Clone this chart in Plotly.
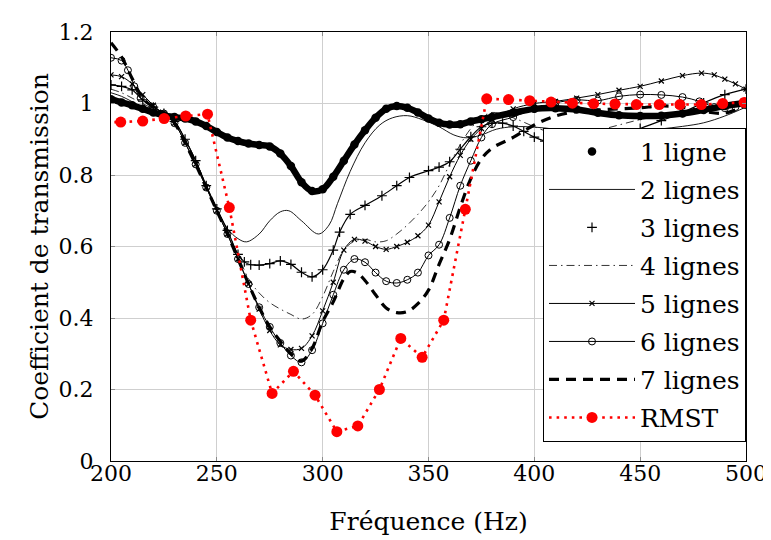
import plotly.graph_objects as go

# ---------------- data ----------------
x1 = [200, 205, 210, 215, 220, 225, 230, 235, 240, 245, 250, 255, 260, 265, 270, 275, 280, 285, 290, 295,
      300, 305, 310, 315, 320, 325, 330, 335, 340, 345, 350, 355, 360, 365, 370, 375, 380, 390, 400, 410,
      420, 430, 440, 450, 460, 470, 480, 490, 500]
ligne1 = [1.012, 1.003, 0.995, 0.985, 0.975, 0.967, 0.962, 0.958, 0.950, 0.937, 0.920, 0.905, 0.895, 0.888,
          0.884, 0.880, 0.860, 0.825, 0.780, 0.755, 0.760, 0.795, 0.840, 0.885, 0.925, 0.960, 0.985, 0.993,
          0.988, 0.975, 0.958, 0.946, 0.941, 0.942, 0.950, 0.956, 0.962, 0.974, 0.985, 0.987, 0.983, 0.974,
          0.967, 0.965, 0.966, 0.972, 0.982, 0.993, 1.002]

x2 = [200, 205, 210, 215, 220, 225, 230, 235, 240, 245, 250, 255, 260, 264, 270, 275, 280, 284, 290, 298,
      303, 307, 313, 320, 327, 333, 340, 347, 355, 362, 368, 375, 382, 390, 400, 410, 420, 430, 440, 450,
      460, 470, 480, 490, 500]
lignes2 = [1.030, 1.020, 1.005, 0.990, 0.980, 0.972, 0.950, 0.900, 0.840, 0.770, 0.705, 0.650, 0.622, 0.613,
           0.635, 0.672, 0.697, 0.700, 0.672, 0.635, 0.660, 0.720, 0.810, 0.890, 0.940, 0.960, 0.966, 0.955,
           0.935, 0.912, 0.904, 0.912, 0.928, 0.935, 0.934, 0.928, 0.920, 0.917, 0.918, 0.923, 0.929, 0.936,
           0.946, 0.965, 0.990]

x3 = [200, 205, 210, 215, 220, 225, 230, 235, 240, 245, 250, 255, 260, 263, 266, 270, 275, 280, 285, 290,
      295, 300, 305, 308, 313, 320, 328, 335, 341, 350, 355, 360, 365, 370, 375, 380, 385, 390, 395, 400,
      405, 410, 420, 430, 440, 450, 460, 470, 480, 490, 500]
lignes3 = [1.052, 1.048, 1.038, 1.010, 0.990, 0.972, 0.950, 0.900, 0.840, 0.770, 0.705, 0.645, 0.578, 0.557,
           0.549, 0.548, 0.552, 0.560, 0.550, 0.528, 0.515, 0.535, 0.590, 0.640, 0.690, 0.715, 0.742, 0.770,
           0.793, 0.812, 0.822, 0.837, 0.872, 0.907, 0.935, 0.945, 0.945, 0.937, 0.922, 0.906, 0.895, 0.890,
           0.889, 0.895, 0.910, 0.930, 0.952, 0.975, 1.002, 1.025, 1.040]

x4 = [200, 205, 210, 215, 220, 225, 230, 235, 240, 245, 250, 255, 260, 265, 270, 275, 280, 285, 290, 295,
      300, 305, 310, 315, 320, 325, 330, 335, 340, 345, 350, 355, 360, 365, 370, 375, 380, 390, 400, 410,
      420, 430, 440, 450, 460, 470, 480, 490, 500]
lignes4 = [1.040, 1.030, 1.015, 1.000, 0.985, 0.972, 0.950, 0.900, 0.840, 0.770, 0.705, 0.645, 0.575, 0.510,
           0.470, 0.443, 0.425, 0.410, 0.397, 0.410, 0.460, 0.530, 0.590, 0.615, 0.620, 0.613, 0.616, 0.635,
           0.660, 0.690, 0.725, 0.770, 0.830, 0.885, 0.930, 0.960, 0.975, 0.960, 0.935, 0.915, 0.915, 0.925,
           0.940, 0.955, 0.965, 0.975, 0.985, 0.990, 1.000]

x5 = [200, 205, 210, 215, 220, 225, 230, 235, 240, 245, 250, 255, 260, 265, 270, 275, 280, 285, 290, 295,
      300, 305, 310, 315, 320, 325, 330, 335, 340, 345, 350, 355, 360, 365, 370, 375, 380, 390, 400, 410,
      420, 430, 440, 450, 460, 470, 479, 485, 490, 495, 500]
lignes5 = [1.080, 1.075, 1.055, 1.025, 0.995, 0.970, 0.945, 0.890, 0.830, 0.765, 0.700, 0.635, 0.565, 0.495,
           0.425, 0.365, 0.325, 0.312, 0.315, 0.350, 0.420, 0.500, 0.590, 0.620, 0.615, 0.600, 0.592, 0.600,
           0.612, 0.630, 0.660, 0.725, 0.795, 0.855, 0.900, 0.930, 0.955, 0.985, 1.000, 1.006, 1.015, 1.025,
           1.037, 1.048, 1.063, 1.078, 1.085, 1.080, 1.068, 1.055, 1.040]

x6 = [200, 205, 208, 211, 214, 220, 225, 230, 235, 240, 245, 250, 255, 260, 265, 270, 275, 280, 285, 290,
      295, 300, 305, 310, 315, 320, 325, 330, 335, 340, 345, 350, 355, 360, 365, 370, 375, 380, 390, 400,
      410, 420, 430, 440, 450, 460, 470, 478, 485, 490, 495, 500]
lignes6 = [1.128, 1.120, 1.093, 1.048, 1.015, 0.990, 0.972, 0.945, 0.890, 0.830, 0.765, 0.700, 0.635, 0.565,
           0.495, 0.430, 0.375, 0.330, 0.295, 0.276, 0.310, 0.385, 0.465, 0.535, 0.565, 0.556, 0.527, 0.503,
           0.498, 0.507, 0.527, 0.575, 0.605, 0.680, 0.770, 0.840, 0.905, 0.942, 0.962, 0.985, 1.002, 1.010,
           1.008, 1.020, 1.025, 1.024, 1.018, 1.006, 0.990, 0.987, 0.990, 0.995]

x7 = [200, 205, 210, 215, 220, 225, 230, 235, 240, 245, 250, 255, 260, 265, 270, 275, 280, 285, 290, 295,
      300, 305, 310, 313, 316, 320, 325, 330, 335, 340, 345, 350, 355, 360, 365, 370, 375, 380, 390, 400,
      410, 420, 430, 440, 450, 460, 470, 480, 490, 500]
lignes7 = [1.170, 1.130, 1.070, 1.015, 0.990, 0.972, 0.945, 0.890, 0.830, 0.765, 0.700, 0.635, 0.565, 0.495,
           0.430, 0.375, 0.335, 0.300, 0.280, 0.315, 0.390, 0.445, 0.510, 0.530, 0.527, 0.505, 0.465, 0.428,
           0.415, 0.418, 0.440, 0.478, 0.550, 0.620, 0.710, 0.790, 0.845, 0.875, 0.905, 0.940, 0.965, 0.978,
           0.982, 0.985, 0.988, 0.993, 0.990, 0.978, 0.973, 0.995]

x_rmst = [194.4, 204.6, 215.0, 225.1, 235.3, 245.6, 255.9, 266.0, 276.1, 286.2, 296.4, 306.7, 316.6, 326.8,
          336.9, 347.0, 357.2, 367.4, 377.5, 387.8, 397.8, 407.9, 418.0, 428.0, 438.1, 448.2, 459.0, 468.8,
          478.9, 489.0, 499.1]
rmst = [0.948, 0.948, 0.951, 0.958, 0.965, 0.970, 0.709, 0.394, 0.189, 0.251, 0.184, 0.082, 0.098, 0.200,
        0.343, 0.290, 0.394, 0.704, 1.013, 1.011, 1.008, 1.004, 1.001, 0.9995, 0.9986, 0.997, 0.997, 0.997,
        0.997, 1.000, 1.003]

x_ticks = [200, 250, 300, 350, 400, 450, 500]
y_ticks = [0, 0.2, 0.4, 0.6, 0.8, 1.0, 1.2]
y_ticktext = ["0", "0.2", "0.4", "0.6", "0.8", "1", "1.2"]

FONT = "DejaVu Serif"
FS = 22      # tick labels
FT = 25      # axis titles and legend
fig = go.Figure()

def add(tr, group):
    tr.legendgroup = group
    fig.add_trace(tr)

# 1 ligne: dense band of filled dots
add(go.Scatter(x=x1, y=ligne1, mode="lines", line=dict(color="black", width=6.5, shape="spline"),
               showlegend=False, hoverinfo="skip"), "g1")
add(go.Scatter(x=x1, y=ligne1, mode="markers", name="1 ligne",
               marker=dict(symbol="circle", size=8.5, color="black")), "g1")
# 2 lignes
add(go.Scatter(x=x2, y=lignes2, mode="lines", name="2 lignes",
               line=dict(color="black", width=0.9, shape="spline")), "g2")
# 3 lignes: + marks only
add(go.Scatter(x=x3, y=lignes3, mode="lines", line=dict(color="black", width=1.2, shape="spline"),
               showlegend=False, hoverinfo="skip"), "g3")
add(go.Scatter(x=x3, y=lignes3, mode="markers", name="3 lignes",
               marker=dict(symbol="cross-thin", size=7, line=dict(color="black", width=1.2))), "g3")
# 4 lignes
add(go.Scatter(x=x4, y=lignes4, mode="lines", name="4 lignes",
               line=dict(color="black", width=0.8, dash="8px,4px,1.5px,4px", shape="spline")), "g4")
# 5 lignes
add(go.Scatter(x=x5, y=lignes5, mode="lines+markers", name="5 lignes",
               line=dict(color="black", width=1, shape="spline"),
               marker=dict(symbol="x-thin", size=5, line=dict(color="black", width=1.2))), "g5")
# 6 lignes
add(go.Scatter(x=x6, y=lignes6, mode="lines+markers", name="6 lignes",
               line=dict(color="black", width=1, shape="spline"),
               marker=dict(symbol="circle-open", size=7, color="black", line=dict(color="black", width=1))), "g6")
# 7 lignes
add(go.Scatter(x=x7, y=lignes7, mode="lines", name="7 lignes",
               line=dict(color="black", width=3.2, dash="10px,7px", shape="spline")), "g7")
# RMST
add(go.Scatter(x=x_rmst, y=rmst, mode="lines+markers", name="RMST",
               line=dict(color="#ff0000", width=2.6, dash="2.6px,5px"),
               marker=dict(symbol="circle", size=11, color="#ff0000")), "g8")

axis_common = dict(showgrid=True, gridcolor="#cfcfcf", gridwidth=1, showline=True, linecolor="black",
                   linewidth=1, mirror="ticks", ticks="inside", ticklen=4, tickcolor="#8a8a8a",
                   zeroline=False, tickfont=dict(family=FONT, size=FS, color="black"))

fig.update_layout(
    width=771, height=540,
    margin=dict(l=103, r=23, t=20, b=87),
    paper_bgcolor="white", plot_bgcolor="white",
    font=dict(family=FONT, size=FS, color="black"),
    xaxis=dict(range=[200, 500], tickvals=x_ticks, ticktext=[str(v) for v in x_ticks],
               ticklabelstandoff=-7,
               title=dict(text="Fréquence (Hz)", font=dict(family=FONT, size=FT), standoff=27),
               **axis_common),
    yaxis=dict(range=[0, 1.2], tickvals=y_ticks, ticktext=y_ticktext,
               ticklabelstandoff=12,
               title=dict(text="Coefficient de transmission", font=dict(family=FONT, size=FT), standoff=2),
               **axis_common),
    legend=dict(x=1, xanchor="right", y=0.045, yanchor="bottom", bgcolor="white",
                bordercolor="black", borderwidth=1, traceorder="grouped", tracegroupgap=2.5,
                itemwidth=86, font=dict(family=FONT, size=FT)),
    showlegend=True,
)

fig.write_html("out.html")
